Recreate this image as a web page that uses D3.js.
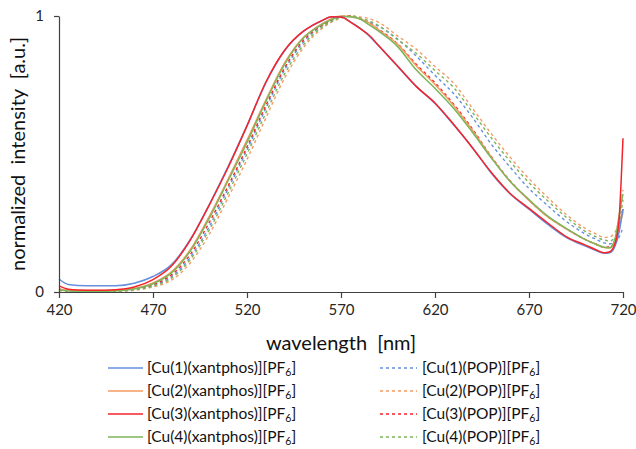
<!DOCTYPE html>
<html><head><meta charset="utf-8">
<script src="https://cdn.jsdelivr.net/npm/d3@7"></script>
<style>
html,body{margin:0;padding:0;background:#fff;}
text{font-family:Lato,"Open Sans",sans-serif;}
</style></head>
<body><svg id="c" width="636" height="449"></svg>
<script>
const wavelengths = [420,425,430,440,450,460,470,480,490,500,510,520,530,540,550,555,560,565,570,575,580,585,590,600,610,620,630,640,650,660,670,680,690,700,705,710,713,716,718,719,720];

const cu1Xantphos = [0.047,0.027,0.024,0.023,0.023,0.032,0.056,0.1,0.192,0.318,0.455,0.603,0.758,0.874,0.944,0.966,0.983,0.996,0.996,0.979,0.957,0.928,0.892,0.818,0.745,0.683,0.605,0.522,0.43,0.355,0.3,0.245,0.197,0.166,0.152,0.14,0.142,0.17,0.22,0.26,0.3];
const cu2Xantphos = [0.012,0.006,0.005,0.005,0.006,0.013,0.033,0.074,0.155,0.275,0.41,0.55,0.695,0.83,0.922,0.95,0.972,0.99,1.0,0.997,0.99,0.975,0.95,0.898,0.82,0.752,0.675,0.585,0.488,0.4,0.332,0.272,0.228,0.19,0.175,0.161,0.16,0.185,0.23,0.26,0.29];
const cu3Xantphos = [0.022,0.01,0.007,0.006,0.008,0.018,0.045,0.095,0.19,0.316,0.452,0.602,0.76,0.876,0.945,0.967,0.984,0.997,0.996,0.978,0.955,0.93,0.893,0.82,0.745,0.685,0.607,0.522,0.433,0.357,0.303,0.25,0.2,0.17,0.155,0.142,0.146,0.18,0.27,0.4,0.557];
const cu4Xantphos = [0.008,0.004,0.003,0.003,0.004,0.011,0.03,0.07,0.15,0.268,0.404,0.542,0.69,0.825,0.92,0.948,0.97,0.987,0.998,0.997,0.99,0.968,0.945,0.89,0.805,0.738,0.665,0.578,0.485,0.4,0.335,0.275,0.23,0.19,0.175,0.162,0.16,0.2,0.28,0.32,0.355];
const cu1POP = [0.007,0.004,0.003,0.003,0.004,0.009,0.024,0.056,0.127,0.238,0.375,0.515,0.665,0.805,0.905,0.94,0.965,0.985,0.997,1.0,0.99,0.978,0.963,0.917,0.855,0.785,0.718,0.632,0.535,0.452,0.375,0.313,0.255,0.21,0.193,0.178,0.175,0.18,0.2,0.215,0.235];
const cu2POP = [0.005,0.002,0.001,0.001,0.002,0.006,0.018,0.044,0.107,0.21,0.343,0.48,0.63,0.775,0.885,0.925,0.955,0.978,0.992,1.0,0.997,0.99,0.977,0.928,0.88,0.817,0.756,0.665,0.573,0.488,0.41,0.342,0.28,0.23,0.212,0.198,0.2,0.22,0.27,0.32,0.37];
const cu3POP = [0.01,0.005,0.004,0.004,0.005,0.011,0.027,0.063,0.138,0.253,0.385,0.525,0.675,0.812,0.912,0.943,0.967,0.985,0.997,1.0,0.99,0.975,0.952,0.9,0.825,0.758,0.68,0.59,0.49,0.402,0.333,0.273,0.228,0.19,0.175,0.162,0.163,0.19,0.24,0.27,0.3];
const cu4POP = [0.006,0.003,0.002,0.002,0.003,0.008,0.021,0.051,0.119,0.226,0.36,0.5,0.648,0.79,0.895,0.932,0.96,0.98,0.995,1.0,0.993,0.982,0.965,0.915,0.865,0.802,0.74,0.65,0.558,0.473,0.396,0.33,0.27,0.22,0.202,0.188,0.185,0.2,0.25,0.29,0.335];

const seriesLabels = ["[Cu(1)(xantphos)][PF","[Cu(2)(xantphos)][PF","[Cu(3)(xantphos)][PF","[Cu(4)(xantphos)][PF","[Cu(1)(POP)][PF","[Cu(2)(POP)][PF","[Cu(3)(POP)][PF","[Cu(4)(POP)][PF"];
const labelSubscript = "6";
const xTicks = [420,470,520,570,620,670,720];
const yTicks = [0,1];
const xTitle = "wavelength  [nm]";
const yTitle = "normalized  intensity  [a.u.]";

const colors = ["#6690dc","#f49a62","#f5242a","#7cb55a"];
const seriesValues = [cu1Xantphos,cu2Xantphos,cu3Xantphos,cu4Xantphos,cu1POP,cu2POP,cu3POP,cu4POP];
const series = seriesValues.map((vals,i)=>({
  label: seriesLabels[i],
  color: colors[i%4],
  dashed: i>=4,
  points: wavelengths.map((w,j)=>({w, v: vals[j]}))
}));

const svg = d3.select("#c");
const x = d3.scaleLinear().domain([420,720]).range([59,623]);
const y = d3.scaleLinear().domain([0,1]).range([292,16]);

const order = [4,5,6,7,1,3,0,2];
const line = d3.line().x(d=>x(d.w)).y(d=>y(d.v)).curve(d3.curveMonotoneX);
const g = svg.append("g");
order.forEach(i=>{
  const s = series[i];
  g.append("path").attr("d", line(s.points))
   .attr("fill","none").attr("stroke", s.color)
   .attr("stroke-width", s.dashed ? 1.4 : 1.5)
   .attr("stroke-dasharray", s.dashed ? "3,3" : null);
});

const axisColor = "#404040";
const xAxis = svg.append("g").attr("transform","translate(0,292)")
  .call(d3.axisBottom(x).tickValues(xTicks).tickSize(6).tickSizeOuter(0).tickFormat(d3.format("d")).tickPadding(6));
const yAxis = svg.append("g").attr("transform","translate(59,0)")
  .call(d3.axisLeft(y).tickValues(yTicks).tickSize(5).tickSizeOuter(0).tickFormat(d3.format("d")).tickPadding(10));
[xAxis,yAxis].forEach(a=>{
  a.select(".domain").attr("stroke",axisColor).attr("stroke-width",1.2);
  a.selectAll(".tick line").attr("stroke",axisColor).attr("stroke-width",1.2);
  a.selectAll(".tick text").attr("fill","#262626").attr("font-size",15).style("font-family","Lato, 'Open Sans', sans-serif");
});

svg.append("text").attr("x",341).attr("y",350).attr("text-anchor","middle")
  .attr("font-size",20).attr("fill","#111").style("white-space","pre").text(xTitle);
svg.append("text").attr("transform","translate(25,154) rotate(-90)").attr("text-anchor","middle")
  .attr("font-size",20).attr("fill","#111").style("white-space","pre").text(yTitle);

const legX = [[108,143,147],[380,417,422]];
const legY = [368,391,414,437];
series.forEach((s,i)=>{
  const col = Math.floor(i/4), row = i%4;
  const [x1,x2,tx] = legX[col];
  const yy = legY[row];
  svg.append("line").attr("x1",x1).attr("x2",x2).attr("y1",yy).attr("y2",yy)
    .attr("stroke",s.color).attr("stroke-width",1.5)
    .attr("stroke-dasharray", s.dashed ? "3,3" : null);
  const t = svg.append("text").attr("x",tx).attr("y",yy+5).attr("font-size",15.5).attr("fill","#111");
  t.append("tspan").text(s.label);
  t.append("tspan").attr("font-size",10.5).attr("dy",3).text(labelSubscript);
  t.append("tspan").attr("dy",-3).text("]");
});
</script></body></html>
